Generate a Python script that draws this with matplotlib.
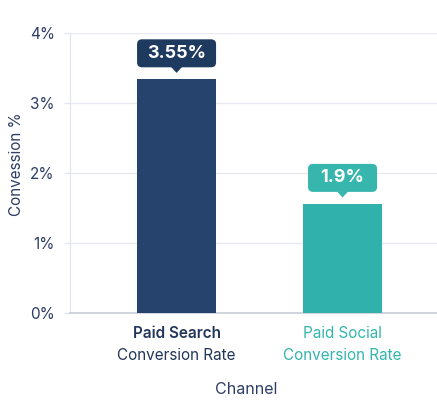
import matplotlib
matplotlib.use("Agg")
import matplotlib.pyplot as plt
from matplotlib.patches import FancyBboxPatch, Polygon

# values (bar heights), label text as shown
channels = ["Paid Search", "Paid Social"]
sublabels = ["Conversion Rate", "Conversion Rate"]
bar_values = [3.34, 1.56]
callout_labels = ["3.55%", "1.9%"]
yticks = [0, 1, 2, 3, 4]
ytick_labels = ["0%", "1%", "2%", "3%", "4%"]

bar_colors = ["#26436e", "#31b1ab"]
box_colors = ["#1f3a5f", "#37b6ae"]
text_colors = ["#22365a", "#33b5ad"]
box_halfwidths = [0.238, 0.208]
navy = "#2d3d63"

plt.rcParams['font.family'] = ['Inter', 'DejaVu Sans']

fig = plt.figure(figsize=(4.37, 4.09), dpi=100)
ax = fig.add_axes([70 / 437, 1 - 313 / 409, 1 - 70 / 437, (313 - 33) / 409])

x = list(range(len(channels)))
ax.bar(x, bar_values, width=0.476, color=bar_colors, zorder=3)

ax.set_xlim(-0.642, 1.569)
ax.set_ylim(0, 4)
ax.set_yticks(yticks)
ax.set_yticklabels(ytick_labels, fontsize=11, color=navy)
ax.set_xticks(x)
ax.set_xticklabels(["", ""])
ax.tick_params(axis='y', length=4, width=1, color="#e3e6ee", pad=7)
ax.tick_params(axis='x', length=0)
ax.grid(axis='y', color="#e8eaf0", linewidth=1, zorder=0)
for s in ["top", "right"]:
    ax.spines[s].set_visible(False)
ax.spines["left"].set_color("#e0e3eb")
ax.spines["bottom"].set_color("#c9cdd8")
ax.spines["bottom"].set_linewidth(1.2)

# callout boxes above bars
aspect = 166 / 70
for i, v in enumerate(bar_values):
    hw = box_halfwidths[i]
    y0 = v + 0.17
    h = 0.40
    box = FancyBboxPatch((i - hw, y0), 2 * hw, h,
                         boxstyle="round,pad=0,rounding_size=0.03",
                         mutation_aspect=aspect,
                         facecolor=box_colors[i], edgecolor="none", zorder=4)
    ax.add_patch(box)
    tri = Polygon([(i - 0.035, y0 + 0.01), (i + 0.035, y0 + 0.01), (i, v + 0.09)],
                  closed=True, facecolor=box_colors[i], edgecolor="none", zorder=4)
    ax.add_patch(tri)
    ax.text(i, y0 + h / 2, callout_labels[i], ha="center", va="center",
            fontsize=13, fontweight="bold", color="white", zorder=5)

# two-line category labels
weights = ["semibold", "normal"]
for i in x:
    ax.annotate(channels[i], xy=(i, 0), xycoords=("data", "axes fraction"),
                xytext=(0, -21), textcoords="offset pixels", ha="center", va="center",
                fontsize=11, fontweight=weights[i], color=text_colors[i])
    ax.annotate(sublabels[i], xy=(i, 0), xycoords=("data", "axes fraction"),
                xytext=(0, -42), textcoords="offset pixels", ha="center", va="center",
                fontsize=11, color=text_colors[i])

fig.text(246 / 437, 1 - 390 / 409, "Channel", ha="center", va="center",
         fontsize=11.5, color=navy)
fig.text(17 / 437, 1 - 164 / 409, "Convession %", ha="center", va="center",
         rotation=90, fontsize=11, color=navy)

fig.savefig("out.png", dpi=100, facecolor="white")
